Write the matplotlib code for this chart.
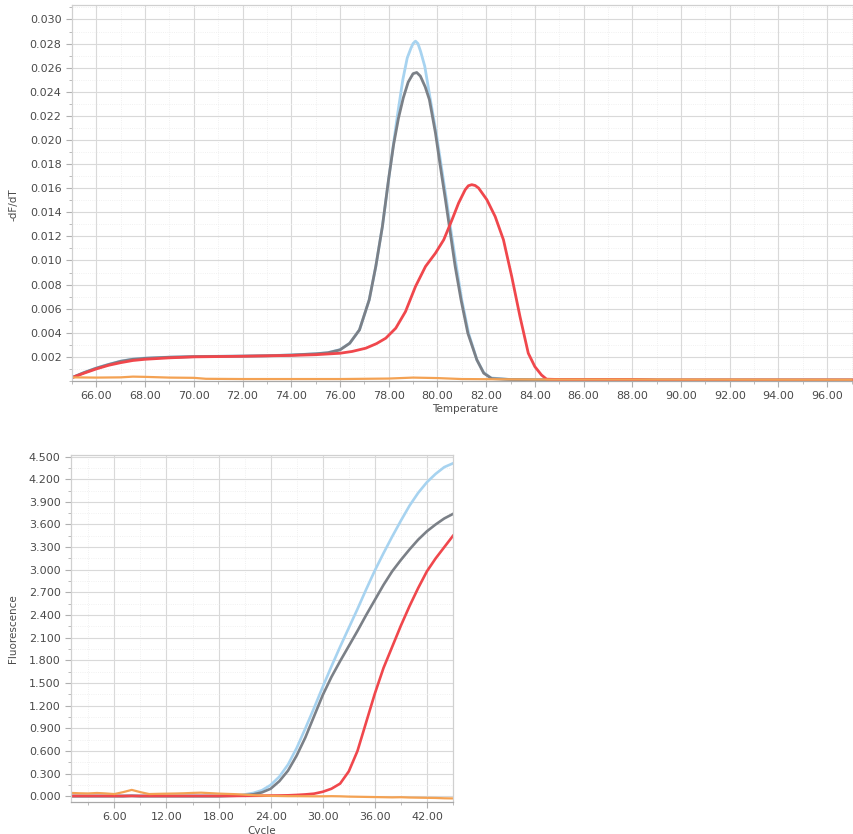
import matplotlib
matplotlib.use("Agg")
from matplotlib import pyplot as plt
from matplotlib.ticker import MultipleLocator, FormatStrFormatter

plt.rcParams['font.family'] = ['DejaVu Sans']

# 熔解曲线 (Temperature vs -dF/dT)
melt_temp_blue = [65, 65.5, 66, 66.5, 67, 67.5, 68, 69, 70, 71, 72, 73, 74, 75, 75.5, 76, 76.4, 76.8,
                  77.2, 77.47, 77.74, 77.95, 78.15, 78.37, 78.58, 78.76, 78.91, 79.0, 79.1, 79.2,
                  79.31, 79.48, 79.71, 79.95, 80.16, 80.37, 80.57, 80.78, 81.0, 81.28, 81.62, 81.9,
                  82.2, 83, 84, 86, 88, 89, 97]
melt_blue = [0.00028, 0.0007, 0.00108, 0.00138, 0.00165, 0.00182, 0.0019, 0.00198, 0.00203, 0.00205,
             0.00207, 0.0021, 0.00216, 0.00226, 0.00235, 0.0026, 0.00313, 0.00424, 0.00673, 0.0095,
             0.0128, 0.0160, 0.0190, 0.0222, 0.0250, 0.0268, 0.0276, 0.0280, 0.0282, 0.0280, 0.02735,
             0.02612, 0.02335, 0.02058, 0.01781, 0.01504, 0.01227, 0.0095, 0.00673, 0.00396, 0.00175,
             0.0007, 0.00025, 0.00012, 0.0001, 0.0001, 0.0001, 0.00008, 0.00008]

melt_temp_grey = [65, 65.5, 66, 66.5, 67, 67.5, 68, 69, 70, 71, 72, 73, 74, 75, 75.5, 76, 76.4, 76.8,
                  77.2, 77.47, 77.74, 78.0, 78.2, 78.4, 78.6, 78.8, 79.0, 79.15, 79.3, 79.5, 79.67,
                  79.92, 80.12, 80.33, 80.53, 80.73, 80.97, 81.25, 81.62, 81.9, 82.23, 83, 84, 86, 88,
                  89, 97]
melt_grey = [0.00028, 0.0007, 0.00106, 0.00136, 0.00163, 0.0018, 0.00188, 0.00197, 0.00202, 0.00204,
             0.00206, 0.00209, 0.00215, 0.00225, 0.00234, 0.00258, 0.00313, 0.00424, 0.00673, 0.0095,
             0.0128, 0.0168, 0.0196, 0.0218, 0.0235, 0.0248, 0.0255, 0.0256, 0.0253, 0.0244, 0.02335,
             0.02058, 0.01781, 0.01504, 0.01227, 0.0095, 0.00673, 0.00396, 0.00175, 0.00065, 0.0002,
             0.00012, 0.0001, 0.0001, 0.0001, 0.00008, 0.00008]

melt_temp_red = [65, 65.5, 66, 66.5, 67, 67.5, 68, 69, 70, 72, 74, 75, 76, 76.5, 77.06, 77.5, 77.88,
                 78.29, 78.69, 79.1, 79.51, 79.92, 80.26, 80.6, 80.87, 81.14, 81.27, 81.41, 81.55,
                 81.69, 82.03, 82.37, 82.71, 83.05, 83.39, 83.73, 84.0, 84.27, 84.48, 85, 88, 89, 97]
melt_red = [0.00028, 0.00065, 0.001, 0.0013, 0.00152, 0.0017, 0.0018, 0.00192, 0.002, 0.00205, 0.00212,
            0.00218, 0.0023, 0.00245, 0.00272, 0.0031, 0.00355, 0.00438, 0.00576, 0.00784, 0.0095,
            0.01061, 0.01172, 0.01338, 0.01477, 0.01587, 0.0162, 0.01629, 0.01622, 0.01601, 0.01504,
            0.01365, 0.01172, 0.00867, 0.00534, 0.0023, 0.00119, 0.0005, 0.00015, 0.00012, 0.00012,
            0.00008, 0.00008]

melt_temp_orange = [65, 66, 67, 67.5, 68, 69, 70, 70.5, 72, 74, 76, 78, 79, 80, 81, 84, 88, 97]
melt_orange = [0.0003, 0.00028, 0.0003, 0.00036, 0.00034, 0.00028, 0.00026, 0.00018, 0.00016, 0.00016,
               0.00016, 0.0002, 0.00028, 0.00024, 0.00016, 0.00012, 0.00012, 0.0001]

# 扩增曲线 (Cycle vs Fluorescence)
cycles = list(range(1, 46))
amp_blue = [0.01, 0.01, 0.01, 0.01, 0.01, 0.01, 0.01, 0.012, 0.01, 0.01, 0.01, 0.01, 0.01, 0.01, 0.01,
            0.01, 0.01, 0.01, 0.012, 0.013, 0.025, 0.044, 0.08, 0.15, 0.26, 0.42, 0.64, 0.9, 1.17,
            1.45, 1.72, 1.98, 2.23, 2.48, 2.74, 2.99, 3.22, 3.44, 3.65, 3.85, 4.02, 4.16, 4.27, 4.36,
            4.41]
amp_grey = [0.0, 0.0, 0.0, 0.0, 0.0, 0.0, 0.0, 0.005, 0.0, 0.0, 0.0, 0.0, 0.0, 0.0, 0.0, 0.0, 0.0,
            0.0, 0.004, 0.008, 0.015, 0.026, 0.052, 0.1, 0.2, 0.34, 0.54, 0.78, 1.06, 1.34, 1.58, 1.79,
            1.99, 2.19, 2.4, 2.6, 2.8, 2.98, 3.13, 3.27, 3.4, 3.51, 3.6, 3.68, 3.74]
amp_red = [0.005, 0.005, 0.005, 0.005, 0.005, 0.005, 0.005, 0.005, 0.005, 0.005, 0.005, 0.005, 0.005,
           0.005, 0.005, 0.005, 0.005, 0.005, 0.005, 0.005, 0.006, 0.007, 0.008, 0.01, 0.011, 0.013,
           0.018, 0.025, 0.035, 0.06, 0.1, 0.168, 0.33, 0.6, 0.98, 1.36, 1.7, 1.98, 2.26, 2.52, 2.76,
           2.98, 3.15, 3.3, 3.45]
amp_orange = [0.045, 0.04, 0.038, 0.044, 0.038, 0.03, 0.055, 0.085, 0.055, 0.03, 0.033, 0.035, 0.037,
              0.04, 0.045, 0.048, 0.042, 0.036, 0.032, 0.028, 0.022, 0.015, 0.01, 0.006, 0.004, 0.002,
              0.002, 0.001, 0.0, 0.0, 0.002, 0.0, -0.004, -0.006, -0.008, -0.01, -0.012, -0.014,
              -0.012, -0.016, -0.018, -0.02, -0.022, -0.026, -0.028]

c_blue = '#a7d3f0'
c_grey = '#7b8087'
c_red = '#f0474c'
c_orange = '#f4a253'
tick_col = '#4a4a4a'
grid_col = '#d9d9d9'


def style_axes(ax):
    ax.grid(True, which='major', color=grid_col, linewidth=0.8)
    ax.grid(True, which='minor', color='#ececec', linewidth=0.6, linestyle=':')
    ax.tick_params(which='both', direction='out', colors='#b0b0b0', labelcolor=tick_col, labelsize=8)
    ax.tick_params(which='major', length=4)
    ax.tick_params(which='minor', length=2)
    for s in ax.spines.values():
        s.set_color('#d0d0d0')
        s.set_linewidth(0.9)
    ax.spines['bottom'].set_color('#a8a8a8')
    ax.set_axisbelow(True)


fig = plt.figure(figsize=(8.54, 8.34), dpi=100)

# 上图：熔解曲线
ax1 = fig.add_axes([0.0843, 0.5432, 0.9157, 0.4508])
ax1.plot(melt_temp_blue, melt_blue, color=c_blue, lw=2.0)
ax1.plot(melt_temp_grey, melt_grey, color=c_grey, lw=2.0)
ax1.plot(melt_temp_red, melt_red, color=c_red, lw=2.0)
ax1.plot(melt_temp_orange, melt_orange, color=c_orange, lw=1.6)
ax1.set_xlim(65, 97.1)
ax1.set_ylim(0, 0.0312)
ax1.xaxis.set_major_locator(MultipleLocator(2))
ax1.xaxis.set_minor_locator(MultipleLocator(1))
ax1.yaxis.set_major_locator(MultipleLocator(0.002))
ax1.yaxis.set_minor_locator(MultipleLocator(0.001))
ax1.xaxis.set_major_formatter(FormatStrFormatter('%.2f'))
ax1.yaxis.set_major_formatter(FormatStrFormatter('%.3f'))
style_axes(ax1)
ax1.spines['right'].set_visible(False)
ax1.set_yticks([v * 0.002 for v in range(1, 16)])
ax1.set_xlabel('Temperature', fontsize=7.5, color=tick_col)
ax1.set_ylabel('-dF/dT', fontsize=7.5, color=tick_col)
ax1.xaxis.set_label_coords(0.503, -0.062)
ax1.yaxis.set_label_coords(-0.069, 0.47)

# 下图：扩增曲线
ax2 = fig.add_axes([0.0831, 0.0384, 0.4473, 0.416])
ax2.plot(cycles, amp_blue, color=c_blue, lw=1.9)
ax2.plot(cycles, amp_grey, color=c_grey, lw=1.9)
ax2.plot(cycles, amp_red, color=c_red, lw=1.9)
ax2.plot(cycles, amp_orange, color=c_orange, lw=1.6)
ax2.set_xlim(1, 45)
ax2.set_ylim(-0.075, 4.52)
ax2.set_xticks([6, 12, 18, 24, 30, 36, 42])
ax2.xaxis.set_minor_locator(MultipleLocator(3))
ax2.set_yticks([i * 0.3 for i in range(16)])
ax2.yaxis.set_minor_locator(MultipleLocator(0.15))
ax2.xaxis.set_major_formatter(FormatStrFormatter('%.2f'))
ax2.yaxis.set_major_formatter(FormatStrFormatter('%.3f'))
style_axes(ax2)
ax2.set_xlabel('Cycle', fontsize=7.5, color=tick_col)
ax2.set_ylabel('Fluorescence', fontsize=7.5, color=tick_col)
ax2.xaxis.set_label_coords(0.5, -0.068)
ax2.yaxis.set_label_coords(-0.139, 0.5)

plt.savefig('out.png', dpi=100)
plt.close()
